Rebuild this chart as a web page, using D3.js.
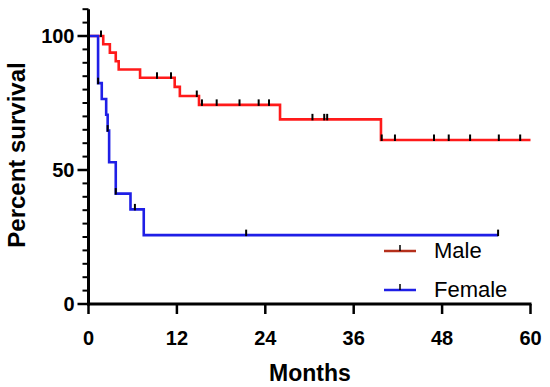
<!DOCTYPE html>
<html>
<head>
<meta charset="utf-8">
<script src="https://cdn.jsdelivr.net/npm/d3@7"></script>
<style>
  body { margin: 0; background: #fff; }
  text { font-family: "Liberation Sans", Arial, sans-serif; }
</style>
</head>
<body>
<div id="chart"></div>
<script>
// Kaplan-Meier steps: time (months) and percent survival after the step
var maleTimes = [2.0, 2.9, 3.7, 4.1, 7.0, 11.7, 12.4, 15.0, 26.0, 39.7];
var maleSurv  = [96.9, 93.8, 90.6, 87.5, 84.4, 81.0, 77.6, 74.3, 68.9, 61.2];
var maleCensor = [1.7, 9.3, 11.2, 14.7, 15.4, 17.4, 20.5, 23.1, 24.5, 30.4, 32.0, 32.4, 39.8, 41.6, 46.9, 48.9, 51.8, 55.7, 58.6];
var maleEnd = 60;

var femaleTimes = [1.3, 1.8, 2.4, 2.6, 2.8, 3.7, 5.7, 7.5];
var femaleSurv  = [82.4, 76.5, 70.6, 64.7, 52.9, 41.2, 35.3, 25.7];
var femaleCensor = [1.3, 2.6, 3.7, 6.3, 21.4, 55.6];
var femaleEnd = 55.6;

var xTicks = [0, 12, 24, 36, 48, 60];
var yTicks = [0, 50, 100];
var yMinor = d3.range(0, 111, 5);

var width = 550, height = 387;
var svg = d3.select("#chart").append("svg")
  .attr("width", width)
  .attr("height", height);

var x = d3.scaleLinear().domain([0, 60]).range([88.5, 530.5]);
var y = d3.scaleLinear().domain([0, 110]).range([304, 9.2]);

function survAt(times, surv, t) {
  var s = 100;
  for (var i = 0; i < times.length; i++) {
    if (times[i] <= t) s = surv[i];
  }
  return s;
}

function stepPoints(times, surv, end) {
  var pts = [[0, 100]];
  for (var i = 0; i < times.length; i++) pts.push([times[i], surv[i]]);
  pts.push([end, surv[surv.length - 1]]);
  return pts;
}

var line = d3.line()
  .x(function(d) { return x(d[0]); })
  .y(function(d) { return y(d[1]); })
  .curve(d3.curveStepAfter);

var groups = [
  { name: "Male", color: "#ff1a1a", times: maleTimes, surv: maleSurv, censor: maleCensor, end: maleEnd },
  { name: "Female", color: "#1f1fe6", times: femaleTimes, surv: femaleSurv, censor: femaleCensor, end: femaleEnd }
];

groups.forEach(function(g) {
  svg.append("path")
    .datum(stepPoints(g.times, g.surv, g.end))
    .attr("d", line)
    .attr("fill", "none")
    .attr("stroke", g.color)
    .attr("stroke-width", 2.6);

  svg.append("g")
    .selectAll("line")
    .data(g.censor)
    .enter()
    .append("line")
      .attr("x1", function(d) { return x(d); })
      .attr("x2", function(d) { return x(d); })
      .attr("y1", function(d) { return y(survAt(g.times, g.surv, d)) + 1; })
      .attr("y2", function(d) { return y(survAt(g.times, g.surv, d)) - 5.5; })
      .attr("stroke", "#000")
      .attr("stroke-width", 2);
});

// y axis
var yAxis = svg.append("g")
  .attr("transform", "translate(" + x(0) + ",0)");
yAxis.selectAll(".minor")
  .data(yMinor)
  .enter()
  .append("line")
    .attr("x1", -6).attr("x2", 0)
    .attr("y1", function(d) { return y(d); })
    .attr("y2", function(d) { return y(d); })
    .attr("stroke", "#000")
    .attr("stroke-width", 2);
yAxis.selectAll(".major")
  .data(yTicks)
  .enter()
  .append("line")
    .attr("x1", -11).attr("x2", 0)
    .attr("y1", function(d) { return y(d); })
    .attr("y2", function(d) { return y(d); })
    .attr("stroke", "#000")
    .attr("stroke-width", 2.5);
yAxis.selectAll("text")
  .data(yTicks)
  .enter()
  .append("text")
    .attr("x", -14)
    .attr("y", function(d) { return y(d); })
    .attr("dy", "0.36em")
    .attr("text-anchor", "end")
    .attr("font-size", 20)
    .attr("font-weight", "bold")
    .text(function(d) { return d; });
yAxis.append("line")
  .attr("x1", 0).attr("x2", 0)
  .attr("y1", y(110)).attr("y2", y(0) + 1.5)
  .attr("stroke", "#000")
  .attr("stroke-width", 3);

// x axis
var xAxis = svg.append("g")
  .attr("transform", "translate(0," + y(0) + ")");
xAxis.selectAll(".tick")
  .data(xTicks)
  .enter()
  .append("line")
    .attr("x1", function(d) { return x(d); })
    .attr("x2", function(d) { return x(d); })
    .attr("y1", 0).attr("y2", 10)
    .attr("stroke", "#000")
    .attr("stroke-width", 2.5);
xAxis.selectAll("text")
  .data(xTicks)
  .enter()
  .append("text")
    .attr("x", function(d) { return x(d); })
    .attr("y", 41)
    .attr("text-anchor", "middle")
    .attr("font-size", 20)
    .attr("font-weight", "bold")
    .text(function(d) { return d; });
xAxis.append("line")
  .attr("x1", x(0) - 1.5).attr("x2", x(60) + 1)
  .attr("y1", 0).attr("y2", 0)
  .attr("stroke", "#000")
  .attr("stroke-width", 3);

// axis titles
svg.append("text")
  .attr("x", 310)
  .attr("y", 381)
  .attr("text-anchor", "middle")
  .attr("font-size", 23)
  .attr("font-weight", "bold")
  .text("Months");

svg.append("text")
  .attr("transform", "translate(25,155) rotate(-90)")
  .attr("text-anchor", "middle")
  .attr("font-size", 24)
  .attr("font-weight", "bold")
  .text("Percent survival");

// legend
var legendColors = ["#b5301c", "#1f1fe6"];
var legend = svg.append("g");
groups.forEach(function(g, i) {
  var ly = 251 + i * 39;
  legend.append("line")
    .attr("x1", 384).attr("x2", 416)
    .attr("y1", ly).attr("y2", ly)
    .attr("stroke", legendColors[i])
    .attr("stroke-width", 2.5);
  legend.append("line")
    .attr("x1", 400).attr("x2", 400)
    .attr("y1", ly).attr("y2", ly - 6)
    .attr("stroke", "#000")
    .attr("stroke-width", 1.5);
  legend.append("text")
    .attr("x", 434)
    .attr("y", ly + 7)
    .attr("font-size", 22)
    .text(g.name);
});
</script>
</body>
</html>
